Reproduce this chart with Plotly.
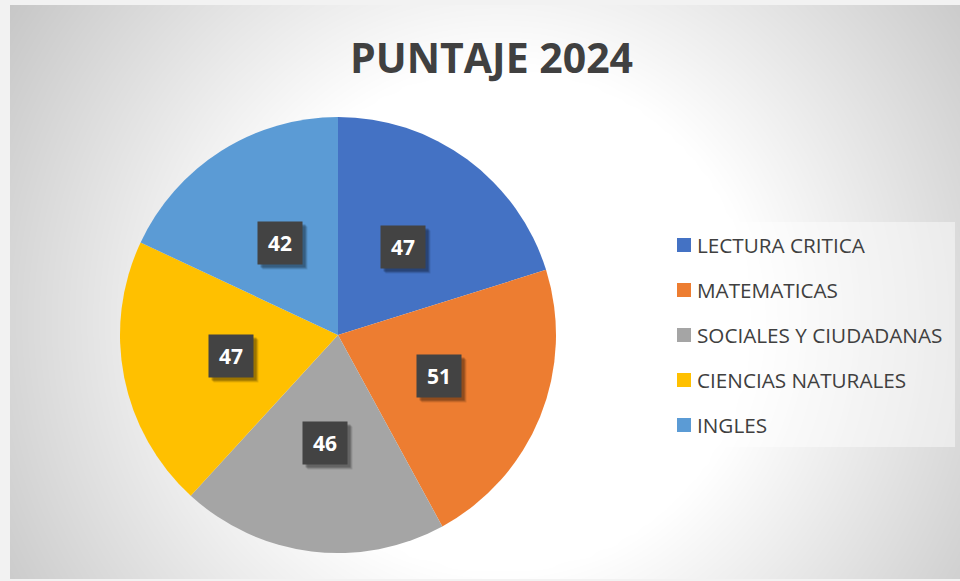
import numpy as np
import plotly.graph_objects as go

# ---- data ----
categories = ["LECTURA CRITICA", "MATEMATICAS", "SOCIALES Y CIUDADANAS",
              "CIENCIAS NATURALES", "INGLES"]
values = [47, 51, 46, 47, 42]
colors = ["#4472C4", "#ED7D31", "#A5A5A5", "#FFC000", "#5B9BD5"]
title_text = "PUNTAJE 2024"

W, H = 960, 581
FONT = "Open Sans"
TXT = "#404040"

def px(x):
    return x / W

def py(y):
    return 1 - y / H

fig = go.Figure()

# ---- background radial gradient (chart area styling) ----
gx = np.linspace(10, 960, 80)
gy = np.linspace(5, 579, 50)
XX, YY = np.meshgrid(gx, gy)
dist = np.sqrt((XX - 500) ** 2 + (YY - 320) ** 2)
zbg = np.clip((dist - 250) / 350, 0, 1)
fig.add_trace(go.Heatmap(x=gx, y=gy, z=zbg, zsmooth="best",
                         colorscale=[[0, "#ffffff"], [1, "#c4c4c4"]],
                         zmin=0, zmax=1, showscale=False, hoverinfo="skip",
                         xaxis="x", yaxis="y"))

# ---- pie ----
cx, cy, R = 338, 335, 218
fig.add_trace(go.Pie(labels=categories, values=values, sort=False,
                     direction="clockwise", rotation=0,
                     marker=dict(colors=colors, line=dict(width=0)),
                     textinfo="none", showlegend=False,
                     hoverinfo="label+value",
                     domain=dict(x=[px(cx - R), px(cx + R)],
                                 y=[py(cy + R), py(cy - R)])))

annotations = []
shapes = []

# ---- data labels (placed at slice mid-angles from values) ----
total = sum(values)
cum = 0
for v in values:
    mid = (cum + v / 2) / total * 2 * np.pi
    cum += v
    lx = cx + 0.5 * R * np.sin(mid)
    ly = cy - 0.5 * R * np.cos(mid)
    for sh, a in ((5, 0.10), (4, 0.15), (3, 0.2)):
        annotations.append(dict(x=px(lx), y=py(ly), xref="paper", yref="paper",
                                xanchor="center", yanchor="middle",
                                text="", showarrow=False, width=44, height=42,
                                bgcolor=f"rgba(0,0,0,{a})", borderpad=0,
                                xshift=sh, yshift=-sh))
    annotations.append(dict(x=px(lx), y=py(ly), xref="paper", yref="paper",
                            xanchor="center", yanchor="middle",
                            text=f"<b>{v}</b>", showarrow=False,
                            width=44, height=42, bgcolor="#434343",
                            borderpad=0, align="center", valign="middle",
                            font=dict(family=FONT, size=21, color="white")))

# ---- legend (manual, to match spacing) ----
shapes.append(dict(type="rect", xref="paper", yref="paper",
                   x0=px(665), x1=px(955), y0=py(447), y1=py(222),
                   fillcolor="rgba(255,255,255,0.45)", line=dict(width=0),
                   layer="above"))
for i, (c, col) in enumerate(zip(categories, colors)):
    yc = 245 + i * 45
    shapes.append(dict(type="rect", xref="paper", yref="paper",
                       x0=px(677), x1=px(691), y0=py(yc + 7), y1=py(yc - 7),
                       fillcolor=col, line=dict(width=0), layer="above"))
    annotations.append(dict(x=px(695), y=py(yc), xref="paper", yref="paper",
                            text=c, showarrow=False, xanchor="left",
                            yanchor="middle",
                            font=dict(family=FONT, size=20.7, color=TXT)))

# ---- title ----
annotations.append(dict(x=px(491), y=py(57), xref="paper", yref="paper",
                        text=f"<b>{title_text}</b>", showarrow=False,
                        xanchor="center", yanchor="middle",
                        font=dict(family=FONT, size=41, color=TXT)))

fig.update_layout(
    width=W, height=H,
    margin=dict(l=0, r=0, t=0, b=0),
    paper_bgcolor="#f2f2f2",
    plot_bgcolor="rgba(0,0,0,0)",
    xaxis=dict(domain=[px(10), 1], range=[10, 960], visible=False,
               fixedrange=True),
    yaxis=dict(domain=[py(579), py(5)], range=[579, 5], visible=False,
               fixedrange=True),
    annotations=annotations,
    shapes=shapes,
    showlegend=False,
)

fig.write_html("out.html",
               config={"displayModeBar": False},
               post_script="document.body.style.margin='0px';"
                           "document.body.style.overflow='hidden';")
